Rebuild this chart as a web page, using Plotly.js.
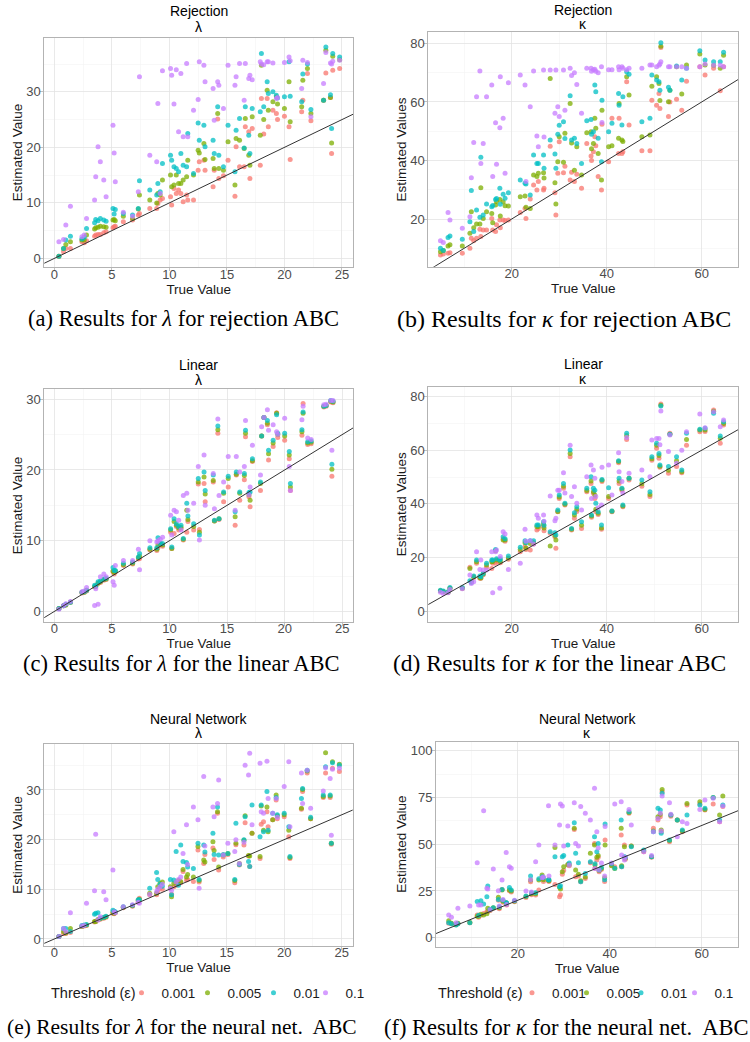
<!DOCTYPE html>
<html>
<head>
<meta charset="utf-8">
<script src="https://cdn.plot.ly/plotly-3.0.1.min.js"></script>
<style>
  html, body { margin: 0; padding: 0; background: #ffffff; overflow: hidden; }
  #chart { width: 750px; height: 1042px; }
</style>
</head>
<body>
<div id="chart"></div>
<script>
// ABC estimates of lambda and kappa against their true values,
// for three ABC variants (rejection, linear regression, neural network)
// and four acceptance thresholds.

const thresholds = ['0.001', '0.005', '0.01', '0.1'];

// ---- lambda ----
const trueLambda = [0.4,0.8,1.0,1.4,2.4,2.6,2.8,3.5,3.6,3.8,4.0,4.3,4.5,5.1,5.2,5.3,6.0,6.8,7.3,7.4,8.3,8.9,9.0,9.2,9.4,10.1,10.2,10.4,10.6,10.8,11.0,11.2,11.5,11.6,12.1,12.5,12.6,13.0,13.1,13.8,13.9,14.2,14.3,14.7,15.1,15.7,15.8,16.1,16.5,16.6,16.9,17.0,17.2,17.9,18.0,18.2,18.5,18.6,19.0,19.3,19.4,20.0,20.4,20.5,21.5,21.6,22.0,22.3,23.4,23.6,24.0,24.1,24.2,24.8];

const lambdaRejection001 = [0.4,1.2,1.8,1.8,3.0,2.8,3.2,4.0,4.2,4.3,4.3,4.6,4.8,5.5,5.7,5.8,6.6,6.9,7.8,8.1,9.0,9.0,9.9,10.5,10.8,11.1,9.6,12.6,11.7,12.3,11.7,10.2,11.4,10.5,10.5,15.9,17.4,17.7,15.9,12.9,15.9,25.1,14.4,14.9,17.7,11.2,20.1,16.5,16.5,23.7,22.8,14.4,23.4,16.8,28.8,22.4,28.8,23.7,26.7,26.1,25.0,25.6,23.7,17.8,26.4,28.5,33.3,24.8,28.5,33.4,29.0,18.9,33.9,34.2];
const lambdaRejection005 = [0.4,1.8,2.5,3.0,3.3,3.3,4.2,5.3,5.5,5.6,5.8,5.7,5.6,6.9,7.0,6.8,7.6,7.2,8.9,11.4,10.5,10.0,11.7,11.4,14.1,15.0,12.9,13.2,15.0,13.5,13.5,14.1,14.7,17.7,15.0,19.5,19.0,20.7,17.8,18.0,16.2,26.1,16.2,15.9,21.0,13.2,21.6,21.3,19.8,25.2,18.6,16.8,25.5,22.2,34.8,25.0,30.3,26.7,28.2,29.1,27.8,27.0,31.8,24.6,27.3,32.1,34.2,26.1,28.5,37.5,29.0,20.8,36.4,35.8];
const lambdaRejection01 = [0.4,1.8,3.3,4.0,3.5,3.8,5.4,6.4,7.0,6.8,7.2,6.9,6.7,9.0,8.0,8.8,8.1,7.8,9.0,14.0,12.3,11.4,13.5,12.0,17.1,18.6,17.7,16.5,16.2,15.6,18.9,16.8,16.5,22.5,15.3,24.4,21.3,24.0,20.1,21.3,18.9,27.3,18.6,16.5,24.0,15.6,23.1,25.2,19.9,27.3,22.2,18.9,27.0,26.4,36.9,27.3,31.8,29.7,30.0,29.4,28.9,29.1,35.4,29.2,28.2,33.2,35.0,26.8,28.5,38.1,29.5,23.4,36.9,36.3];
const lambdaRejection1 = [3.0,3.4,6.0,9.4,3.9,4.2,7.2,10.5,14.7,20.1,17.4,14.1,11.1,24.0,19.0,13.8,8.3,7.6,12.0,32.7,18.6,17.4,27.9,11.7,33.8,34.2,33.0,27.8,34.0,22.8,33.3,21.9,35.1,21.9,26.7,28.6,35.4,34.8,31.8,30.6,24.9,31.8,31.2,27.0,34.8,31.2,32.7,35.1,28.5,35.1,32.4,33.0,32.2,35.4,35.0,34.9,35.4,35.4,35.2,28.8,29.0,35.3,36.3,35.6,30.6,35.7,35.3,25.5,31.5,37.1,35.2,35.0,35.5,35.7];

const lambdaLinear001 = [0.4,0.8,0.9,1.3,2.6,2.7,2.9,3.5,3.5,4.0,4.1,4.4,4.5,5.6,5.3,5.6,6.5,6.7,7.4,7.5,8.7,8.6,9.0,9.4,9.2,11.2,8.9,11.0,12.0,11.5,11.7,10.1,11.2,12.7,11.5,18.0,11.6,18.1,15.5,18.3,12.8,25.2,13.0,15.5,17.6,12.2,19.3,15.7,18.6,24.7,16.2,14.8,21.2,17.1,24.8,27.4,26.4,21.4,23.3,28.1,24.6,24.2,21.6,17.1,24.9,29.4,23.6,23.7,28.9,29.0,29.6,19.1,29.5,null];
const lambdaLinear005 = [0.4,0.8,0.9,1.3,2.7,2.7,3.0,3.5,3.6,4.0,4.2,4.5,4.6,5.7,5.5,5.7,6.6,6.8,7.6,7.8,8.8,8.8,9.4,9.6,9.4,11.5,8.9,12.7,12.2,11.8,11.9,10.2,14.3,13.0,12.0,18.3,11.2,19.0,16.6,18.5,12.8,25.7,13.1,16.7,18.8,13.4,19.4,16.7,19.2,25.2,16.5,15.7,21.3,18.1,24.8,27.4,26.6,22.3,23.8,28.0,25.0,24.8,22.1,17.6,25.4,28.0,23.8,23.9,29.0,29.1,29.7,20.1,29.6,null];
const lambdaLinear01 = [0.4,0.8,1.0,1.3,2.7,2.8,3.0,3.7,3.6,4.2,4.3,4.6,4.7,6.2,5.8,5.8,6.8,7.0,7.7,8.2,9.0,9.0,10.4,9.6,9.6,11.7,9.1,13.1,12.4,12.0,12.2,10.3,15.3,13.5,12.4,18.8,10.8,19.7,17.1,19.3,12.9,26.2,13.1,16.9,19.1,14.1,19.7,16.9,19.5,25.6,16.8,16.9,21.6,18.3,24.8,27.4,27.0,22.8,24.2,27.8,25.2,25.2,22.6,18.1,25.7,28.2,24.0,24.1,29.0,29.1,29.8,20.8,29.7,null];
const lambdaLinear1 = [0.3,0.8,1.1,1.4,2.8,2.9,3.4,0.85,3.2,1.0,4.9,5.3,4.9,4.2,3.7,6.5,7.2,7.2,8.8,5.9,10.0,9.8,10.0,10.2,10.5,13.6,10.8,14.3,14.1,12.9,11.5,16.4,16.7,14.3,15.3,20.5,10.1,22.1,15.0,19.5,14.5,27.2,16.4,18.3,21.9,14.3,21.9,19.7,20.5,27.0,16.5,17.6,23.5,19.3,26.1,27.4,28.5,25.6,26.4,25.4,25.0,27.3,20.5,17.1,27.1,29.0,24.5,24.3,29.2,29.3,29.8,22.8,29.8,null];

const lambdaNeural001 = [0.5,1.1,1.1,1.3,2.5,2.6,2.7,3.4,3.5,3.8,4.0,4.2,4.4,5.2,5.1,5.3,6.3,6.6,7.4,8.2,8.9,8.9,9.5,10.2,10.0,10.2,9.0,10.5,10.8,11.0,11.3,13.6,11.9,12.0,11.6,17.9,11.5,15.2,17.0,18.3,16.0,25.3,13.9,16.5,17.0,11.3,19.0,14.9,18.9,23.4,16.7,14.6,21.3,16.2,23.1,23.6,25.6,22.6,24.0,28.0,24.2,24.6,20.6,16.2,26.1,29.7,33.4,24.2,28.5,33.4,28.5,19.1,34.4,33.7];
const lambdaNeural005 = [0.5,1.5,1.2,2.1,2.5,2.7,2.8,3.5,3.5,3.9,4.1,4.3,4.5,5.4,5.2,5.4,6.4,6.7,7.8,8.0,9.2,9.2,10.5,11.2,11.5,10.5,8.5,11.2,11.5,11.8,11.6,14.0,12.5,13.0,12.5,18.6,11.8,15.9,15.5,19.6,17.8,25.6,14.5,16.9,17.2,11.8,19.3,15.2,19.9,24.8,16.8,16.7,21.3,16.6,26.8,21.9,26.6,21.6,24.0,29.0,24.8,25.0,21.9,16.4,26.3,30.1,33.8,24.2,28.7,37.5,28.8,19.3,35.7,35.2];
const lambdaNeural01 = [0.5,2.1,2.1,1.5,2.7,2.8,2.9,5.0,5.2,5.3,4.2,4.4,4.6,5.8,5.6,5.5,6.5,6.8,7.9,7.9,10.2,13.4,12.0,11.0,10.6,12.0,8.9,11.9,17.6,10.8,18.9,15.6,15.4,14.5,14.2,19.3,12.0,18.9,17.5,21.3,17.0,26.6,16.9,17.0,17.2,12.0,23.3,15.0,20.0,24.6,15.6,14.6,27.0,20.6,27.0,21.6,29.7,21.9,25.3,28.5,25.0,25.3,22.6,16.6,28.3,30.3,34.0,24.5,29.0,34.7,29.0,19.3,35.5,35.0];
const lambdaNeural1 = [0.5,2.1,1.5,5.3,2.6,2.7,7.2,9.7,21.1,3.8,4.5,9.5,7.9,13.9,5.5,5.3,6.5,6.9,7.4,7.2,9.0,9.5,10.0,10.5,11.0,10.2,9.8,21.6,11.5,12.0,12.5,17.2,23.0,15.0,26.6,24.0,10.2,32.7,18.7,26.6,24.6,27.3,32.0,16.9,19.3,17.6,20.0,15.2,19.5,35.0,33.0,37.4,23.0,35.4,25.6,25.3,35.8,28.3,25.3,28.3,24.5,30.7,35.7,22.6,33.4,27.3,34.0,26.3,29.8,34.5,32.3,20.9,34.2,34.4];

// ---- kappa ----
const trueKappa = [5.0,5.6,6.6,7.0,9.6,11.2,11.5,12.0,12.6,13.3,13.5,14.0,14.7,15.8,16.0,16.6,16.8,17.5,17.6,18.2,18.6,19.3,21.8,22.8,23.0,23.9,24.6,25.3,25.6,26.7,26.8,28.1,29.1,29.3,29.7,30.0,30.9,31.2,32.3,32.6,33.2,33.7,34.7,35.8,36.7,36.8,37.2,37.5,37.7,38.2,38.9,39.0,40.4,41.1,42.5,42.6,43.2,43.4,44.2,44.7,47.4,49.1,49.5,50.5,51.0,51.2,51.4,53.0,53.3,54.7,55.8,56.8,59.6,60.7,62.5,63.9,64.6];

const kappaRejection001 = [7.7,8.0,8.3,8.5,8.3,10.0,13.4,12.6,13.4,16.5,14.0,16.2,16.2,20.2,16.2,15.7,18.0,19.7,17.0,19.7,19.5,19.7,22.2,23.6,20.2,26.8,31.6,29.9,32.8,29.9,30.5,44.9,29.0,21.4,35.6,46.4,35.8,38.0,33.3,36.0,32.8,35.3,30.5,45.8,41.5,40.0,43.0,48.1,45.0,34.5,29.9,52.4,39.6,54.4,42.4,54.4,42.4,43.0,66.9,52.1,43.3,43.3,60.6,58.9,62.9,57.8,78.6,55.0,60.0,60.9,57.2,67.1,72.0,69.2,71.5,63.8,72.0];
const kappaRejection005 = [8.8,9.2,10.8,11.2,10.8,15.1,22.5,17.0,18.3,18.3,30.7,20.2,22.5,21.9,18.7,24.8,26.0,26.7,21.0,25.9,24.5,24.4,27.6,27.9,24.0,23.6,35.0,34.5,35.6,35.8,34.0,68.0,32.4,25.1,39.6,48.1,39.4,49.3,59.5,46.0,36.7,44.7,35.0,49.5,49.8,44.0,45.8,54.4,51.0,42.4,33.3,57.2,44.7,45.0,47.6,59.5,47.0,46.5,68.6,62.4,48.1,48.7,65.4,68.6,66.3,60.5,79.0,60.1,64.0,72.0,62.7,72.6,76.4,72.6,72.5,71.5,76.0];
const kappaRejection01 = [10.0,9.2,13.7,14.2,13.1,19.1,29.7,15.7,23.1,20.6,41.1,21.4,25.1,24.2,24.6,26.7,27.0,30.5,25.0,28.5,27.1,29.0,33.3,32.2,32.0,28.2,41.9,39.0,39.0,41.9,37.3,47.0,42.2,37.3,49.0,52.0,53.2,47.5,62.1,47.0,47.6,45.8,39.0,53.6,54.0,49.0,49.8,65.8,63.5,47.6,39.6,60.6,49.8,52.7,62.9,58.9,52.1,61.8,70.3,69.5,53.2,54.4,69.2,67.5,66.9,64.0,80.2,65.0,64.0,72.3,67.5,71.5,77.5,74.3,73.7,73.7,77.0];
const kappaRejection1 = [12.6,12.0,22.2,19.7,16.8,20.8,34.1,46.1,61.8,70.6,39.0,45.8,61.8,65.8,34.5,52.9,38.7,51.2,68.6,54.4,35.6,66.6,69.2,65.8,32.8,58.4,70.6,48.4,44.7,70.9,48.0,70.9,56.1,70.9,58.4,55.0,70.9,57.2,71.5,69.0,70.0,66.0,56.1,71.5,71.5,70.5,71.0,71.2,70.5,70.0,72.0,53.0,71.0,71.0,72.0,71.0,72.0,71.5,71.0,71.5,71.5,72.6,72.6,72.0,72.5,73.0,73.7,72.0,72.0,72.0,72.0,71.5,72.0,73.0,72.5,72.5,72.0];

const kappaLinear001 = [7.5,7.2,7.0,8.5,8.5,16.3,10.8,12.5,17.8,12.2,12.2,13.5,16.3,15.9,17.8,17.8,18.5,19.3,18.0,27.0,26.0,19.3,22.1,24.0,23.0,22.8,25.0,30.2,30.8,31.5,30.0,29.0,27.7,23.4,37.0,42.0,45.8,39.6,57.6,30.2,34.6,37.1,30.8,44.5,47.6,35.0,43.9,42.0,37.1,36.0,30.5,48.3,42.0,37.0,55.3,47.6,45.1,38.9,64.0,48.9,46.6,42.7,56.3,60.7,57.0,53.6,77.2,51.4,66.3,53.9,51.6,61.9,66.9,67.0,75.0,62.6,69.4];
const kappaLinear005 = [7.6,7.3,7.0,8.5,8.5,15.9,11.0,12.8,18.4,12.5,12.3,13.8,17.2,18.4,18.5,22.5,19.0,19.0,18.5,26.5,26.5,19.8,23.0,25.5,23.5,25.2,25.5,31.5,31.5,32.5,31.0,24.3,28.2,26.5,37.1,42.5,46.6,39.8,58.8,30.5,35.8,38.0,32.0,45.0,48.5,35.5,44.5,43.3,38.0,36.5,31.0,48.8,42.7,37.2,55.8,48.5,45.5,39.2,65.5,49.5,47.5,43.5,56.8,61.9,58.0,54.0,76.8,52.5,66.0,56.1,52.0,64.0,67.5,67.5,74.5,64.5,70.0];
const kappaLinear01 = [7.8,7.5,7.2,8.8,8.8,11.3,10.6,13.1,19.0,13.1,12.8,14.0,17.8,19.0,19.0,23.0,19.5,19.0,19.5,27.7,27.0,20.5,23.8,26.2,25.5,26.2,26.2,32.1,32.1,33.3,32.0,29.6,29.2,28.4,37.7,43.3,47.6,40.2,60.1,30.8,36.7,38.9,33.3,45.8,50.1,35.8,45.8,45.1,40.2,37.0,32.1,49.1,46.0,37.3,56.1,49.5,45.8,39.6,66.3,49.5,48.9,44.5,57.6,62.6,58.8,54.5,76.5,53.9,66.0,57.6,52.6,66.3,67.8,68.2,73.8,65.3,70.6];
const kappaLinear1 = [7.0,6.5,6.8,8.0,8.3,13.4,10.3,10.9,22.1,15.5,19.0,15.3,15.3,22.1,6.8,22.1,22.8,8.5,20.3,29.6,28.7,15.5,17.8,30.5,26.0,26.2,25.0,35.8,34.6,35.8,33.5,42.9,33.7,34.6,45.1,45.1,51.6,44.0,61.9,42.7,46.4,40.2,37.7,50.1,54.5,42.0,52.6,49.5,42.7,38.5,39.6,53.6,54.5,43.3,59.1,52.0,48.3,44.0,64.7,51.4,52.6,50.1,63.8,64.4,64.4,62.0,74.6,59.5,65.7,55.1,60.0,66.9,73.5,68.4,74.4,68.8,71.3];

const kappaNeural001 = [7.7,7.5,7.2,7.5,8.0,12.1,11.0,12.0,13.0,13.9,14.0,14.5,15.8,20.1,15.5,25.8,19.0,18.7,17.5,25.1,24.5,19.2,21.5,29.9,23.0,22.8,25.5,31.5,30.0,30.5,30.0,28.5,21.9,23.0,34.0,36.0,39.0,38.5,57.9,32.6,33.0,29.9,31.7,40.1,50.4,37.1,41.5,43.0,35.3,36.5,30.0,52.2,38.9,38.0,54.9,38.0,49.6,42.0,66.5,49.0,46.0,43.0,58.5,62.9,64.7,56.7,78.1,51.3,65.0,62.9,56.7,70.9,71.5,68.3,71.5,62.0,70.1];
const kappaNeural005 = [9.1,7.8,7.0,7.8,8.2,11.5,11.5,12.5,12.2,12.8,15.7,14.8,16.0,21.6,16.0,25.5,19.5,18.5,18.0,25.5,25.0,19.5,22.0,30.8,23.5,23.5,30.8,33.5,31.0,31.0,30.5,48.3,27.0,26.0,35.3,38.0,39.2,39.0,58.5,36.2,34.0,30.5,32.5,45.1,49.6,38.9,43.0,44.0,36.0,37.0,32.0,49.6,38.5,37.0,58.5,38.5,48.7,42.5,67.0,49.0,46.5,43.3,57.0,64.7,66.0,57.6,79.3,52.0,65.6,62.9,57.0,71.8,72.7,68.5,75.0,65.6,75.8];
const kappaNeural01 = [8.0,7.5,6.8,7.5,8.0,19.3,12.0,19.8,18.0,21.9,27.6,15.2,16.0,20.5,16.5,25.8,20.0,18.7,18.5,26.9,25.5,19.8,22.3,33.0,24.0,24.0,31.5,32.6,32.0,30.8,31.0,43.3,27.3,27.8,43.3,44.0,49.6,40.0,61.5,45.1,40.1,29.9,34.4,40.6,54.0,39.5,46.0,50.4,36.2,37.5,31.0,60.8,39.5,37.1,62.9,38.0,43.3,43.0,67.4,48.7,46.9,43.3,56.7,69.2,68.3,55.8,77.2,52.2,65.6,62.9,57.6,65.6,70.9,69.2,75.0,62.9,70.9];
const kappaNeural1 = [12.1,10.9,8.0,15.7,16.9,40.1,17.5,17.5,67.9,26.4,26.0,15.0,36.7,25.1,17.0,30.8,20.5,45.5,17.7,38.0,37.1,20.1,25.0,31.0,24.5,40.6,49.6,32.1,32.5,70.6,33.0,49.6,60.2,71.5,70.4,49.0,59.7,38.9,72.2,50.4,49.0,70.1,66.5,62.9,79.9,37.0,56.7,48.0,36.2,40.0,33.0,59.4,40.0,71.5,72.7,44.2,41.5,43.0,68.6,60.2,46.0,44.0,56.7,63.8,66.5,57.0,75.8,72.2,66.0,54.0,62.0,61.1,68.6,73.6,74.5,62.0,70.4];

// ---- axis ticks ----
const lambdaTicks = [0, 5, 10, 15, 20, 25];
const kappaTicks = [20, 40, 60];
const lambdaEstTicks = [0, 10, 20, 30];
const kappaRejEstTicks = [20, 40, 60, 80];
const kappaLinEstTicks = [0, 20, 40, 60, 80];
const kappaNNEstTicks = [0, 25, 50, 75, 100];

// ---- styling ----
const colors = ['#F8766D', '#7CAE00', '#00BFC4', '#C77CFF'];
const SANS = 'Liberation Sans, Arial, sans-serif';
const SERIF = 'Liberation Serif, Times New Roman, serif';
const W = 750, H = 1042;
const xd = (l, r) => [l / W, r / W];
const yd = (t, b) => [1 - b / H, 1 - t / H];
const py = p => 1 - p / H;
const px = p => p / W;

// one entry per subplot
const panels = [
  { method: 'Rejection', sym: 'λ', x: trueLambda,
    ys: [lambdaRejection001, lambdaRejection005, lambdaRejection01, lambdaRejection1],
    box: [44.3, 38, 353, 267], xr: [-0.87, 25.96], yr: [-1.55, 39.7],
    xt: lambdaTicks, yt: lambdaEstTicks, xminor: 2.5, yminor: 5,
    ytitle: 'Estimated Value', titleY: [11, 27] },
  { method: 'Rejection', sym: 'κ', x: trueKappa,
    ys: [kappaRejection001, kappaRejection005, kappaRejection01, kappaRejection1],
    box: [428.3, 32.3, 738.3, 266.7], xr: [2.44, 67.7], yr: [3.7, 83.8],
    xt: kappaTicks, yt: kappaRejEstTicks, xminor: 10, yminor: 10,
    ytitle: 'Estimated Values', titleY: [10, 24] },
  { method: 'Linear', sym: 'λ', x: trueLambda,
    ys: [lambdaLinear001, lambdaLinear005, lambdaLinear01, lambdaLinear1],
    box: [44.3, 389.3, 353.3, 621.7], xr: [-0.87, 25.96], yr: [-1.45, 31.4],
    xt: lambdaTicks, yt: lambdaEstTicks, xminor: 2.5, yminor: 5,
    ytitle: 'Estimated Value', titleY: [365, 380] },
  { method: 'Linear', sym: 'κ', x: trueKappa,
    ys: [kappaLinear001, kappaLinear005, kappaLinear01, kappaLinear1],
    box: [428.3, 386.7, 738.3, 621.7], xr: [2.44, 67.7], yr: [-3.98, 83.7],
    xt: kappaTicks, yt: kappaLinEstTicks, xminor: 10, yminor: 10,
    ytitle: 'Estimated Values', titleY: [364, 379] },
  { method: 'Neural Network', sym: 'λ', x: trueLambda,
    ys: [lambdaNeural001, lambdaNeural005, lambdaNeural01, lambdaNeural1],
    box: [44.3, 744.3, 352.7, 945.7], xr: [-0.87, 25.96], yr: [-1.35, 39.2],
    xt: lambdaTicks, yt: lambdaEstTicks, xminor: 2.5, yminor: 5,
    ytitle: 'Estimated Value', titleY: [719, 733],
    legend: { id: 'legend', x: 121.5, anchor: 'left', titleX: 50.7, widths: [21, 21, 7, 20] } },
  { method: 'Neural Network', sym: 'κ', x: trueKappa,
    ys: [kappaNeural001, kappaNeural005, kappaNeural01, kappaNeural1],
    box: [436, 741.7, 738.3, 946.7], xr: [2.24, 67.96], yr: [-4.8, 104.8],
    xt: kappaTicks, yt: kappaNNEstTicks, xminor: 10, yminor: 12.5,
    ytitle: 'Estimated Value', titleY: [719, 733],
    legend: { id: 'legend2', x: 750, anchor: 'right', titleX: 438.3, widths: [9.5, 9.5, 8.5, 30.5] } }
];

const captions = [
  { text: '(a) Results for <i>λ</i> for rejection ABC', x: 183, y: 319, size: 22.5 },
  { text: '(b) Results for <i>κ</i> for rejection ABC', x: 564, y: 319, size: 24 },
  { text: '(c) Results for <i>λ</i> for the linear ABC', x: 181, y: 663, size: 22.5 },
  { text: '(d) Results for <i>κ</i> for the linear ABC', x: 559, y: 663, size: 23.5 },
  { text: '(e) Results for <i>λ</i> for the neural net.\u00A0 ABC', x: 182, y: 1027, size: 21.5 },
  { text: '(f) Results for <i>κ</i> for the neural net.\u00A0 ABC', x: 566, y: 1027, size: 22.5 }
];

const legendFont = { family: SANS, size: 13.5, color: '#1A1A1A' };
const legendTitleFont = { family: SANS, size: 14.5, color: '#1A1A1A' };
const traces = [];
const layout = {
  width: W, height: H,
  margin: { l: 0, r: 0, t: 0, b: 0 },
  paper_bgcolor: '#ffffff', plot_bgcolor: '#ffffff',
  font: { family: SANS, color: '#1A1A1A' },
  hovermode: false,
  showlegend: true,
  annotations: []
};

function axisBase() {
  return {
    showline: true, mirror: true, linecolor: '#B3B3B3', linewidth: 1,
    showgrid: true, gridcolor: '#E3E3E3', gridwidth: 0.7,
    zeroline: false, fixedrange: true,
    ticks: 'outside', ticklen: 3, tickwidth: 0.8, tickcolor: '#B3B3B3',
    tickfont: { family: SANS, size: 13, color: '#4D4D4D' },
    tickmode: 'array'
  };
}

panels.forEach((p, i) => {
  const n = i + 1;
  const sfx = n === 1 ? '' : String(n);
  const xa = 'x' + sfx, ya = 'y' + sfx;
  const [l, t, r, b] = p.box;

  layout['xaxis' + sfx] = Object.assign(axisBase(), {
    domain: xd(l, r), anchor: ya, range: p.xr, tickvals: p.xt,
    ticklabelstandoff: -8,
    minor: { tickmode: 'linear', tick0: 0, dtick: p.xminor, showgrid: true,
             gridcolor: '#F2F2F2', gridwidth: 0.5, ticks: '' },
    title: { text: 'True Value', font: { family: SANS, size: 13.5, color: '#1A1A1A' }, standoff: 2 }
  });
  layout['yaxis' + sfx] = Object.assign(axisBase(), {
    domain: yd(t, b), anchor: xa, range: p.yr, tickvals: p.yt,
    ticklabelstandoff: -3,
    minor: { tickmode: 'linear', tick0: 0, dtick: p.yminor, showgrid: true,
             gridcolor: '#F2F2F2', gridwidth: 0.5, ticks: '' },
    title: { text: p.ytitle, font: { family: SANS, size: 13.5, color: '#1A1A1A' }, standoff: 0 }
  });

  // estimates for each threshold
  p.ys.forEach((ys, k) => {
    const tr = {
      type: 'scatter', mode: 'markers', xaxis: xa, yaxis: ya,
      x: p.x, y: ys, name: thresholds[k],
      marker: { color: colors[k], size: 5, opacity: 0.75, line: { width: 0 } },
      showlegend: false, cliponaxis: true
    };
    if (p.legend) {
      tr.showlegend = true;
      tr.legend = p.legend.id;
      tr.legendwidth = p.legend.widths[k];
    }
    traces.push(tr);
  });

  // identity line (estimate = true value) across the visible range
  const lo = Math.min(p.xr[0], p.yr[0]), hi = Math.max(p.xr[1], p.yr[1]);
  traces.push({
    type: 'scatter', mode: 'lines', xaxis: xa, yaxis: ya,
    x: [lo, hi], y: [lo, hi], showlegend: false,
    line: { color: '#333333', width: 1 }, hoverinfo: 'skip'
  });

  const cx = px((l + r) / 2);
  layout.annotations.push(
    { xref: 'paper', yref: 'paper', x: cx, y: py(p.titleY[0]), text: p.method,
      showarrow: false, xanchor: 'center', yanchor: 'middle',
      font: { family: SANS, size: 14, color: '#000000' } },
    { xref: 'paper', yref: 'paper', x: cx, y: py(p.titleY[1]), text: p.sym,
      showarrow: false, xanchor: 'center', yanchor: 'middle',
      font: { family: SANS, size: 14, color: '#000000' } }
  );

  // legend for the bottom row, with its title set just left of the keys
  if (p.legend) {
    layout[p.legend.id] = {
      orientation: 'h', x: px(p.legend.x), y: py(993),
      xanchor: p.legend.anchor, yanchor: 'middle',
      font: legendFont, bgcolor: 'rgba(0,0,0,0)', borderwidth: 0
    };
    layout.annotations.push({
      xref: 'paper', yref: 'paper', x: px(p.legend.titleX), y: py(993),
      text: 'Threshold (ε)', showarrow: false, xanchor: 'left', yanchor: 'middle',
      xshift: -2, font: legendTitleFont
    });
  }
});

captions.forEach(c => {
  layout.annotations.push({
    xref: 'paper', yref: 'paper', x: px(c.x), y: py(c.y), text: c.text,
    showarrow: false, xanchor: 'center', yanchor: 'middle',
    font: { family: SERIF, size: c.size, color: '#000000' }
  });
});

Plotly.newPlot('chart', traces, layout, { staticPlot: true, displayModeBar: false });
</script>
</body>
</html>
